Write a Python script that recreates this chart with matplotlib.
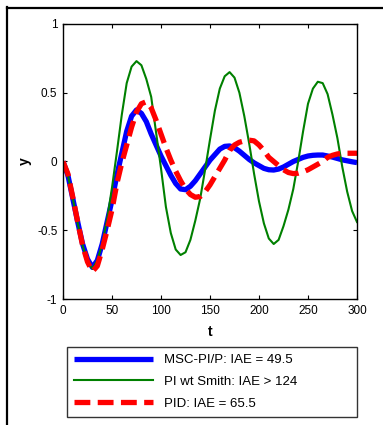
import matplotlib
matplotlib.use("Agg")
import matplotlib.pyplot as plt
from matplotlib.lines import Line2D

plt.rcParams['font.family'] = ['Liberation Sans', 'DejaVu Sans']

t = list(range(0, 301, 5))

msc = [0.0, -0.1, -0.27, -0.44, -0.6, -0.71, -0.77, -0.72, -0.6, -0.44, -0.28, -0.1,
       0.06, 0.22, 0.33, 0.375, 0.35, 0.29, 0.2, 0.12, 0.04, -0.03, -0.1, -0.16,
       -0.2, -0.205, -0.18, -0.14, -0.09, -0.04, 0.01, 0.05, 0.09, 0.11, 0.113,
       0.1, 0.075, 0.045, 0.015, -0.01, -0.03, -0.05, -0.06, -0.062, -0.055, -0.04,
       -0.02, 0.0, 0.015, 0.03, 0.04, 0.045, 0.047, 0.047, 0.04, 0.032, 0.022,
       0.012, 0.005, -0.002, -0.008]

smith = [0.0, -0.1, -0.27, -0.45, -0.61, -0.73, -0.78, -0.72, -0.6, -0.42, -0.19, 0.07,
         0.34, 0.57, 0.69, 0.73, 0.7, 0.6, 0.47, 0.21, -0.05, -0.33, -0.52, -0.64,
         -0.68, -0.66, -0.57, -0.43, -0.27, -0.06, 0.16, 0.37, 0.53, 0.62, 0.65,
         0.61, 0.5, 0.33, 0.13, -0.09, -0.29, -0.45, -0.56, -0.6, -0.57, -0.47,
         -0.35, -0.2, 0.0, 0.22, 0.42, 0.53, 0.58, 0.57, 0.49, 0.34, 0.17, -0.04,
         -0.22, -0.36, -0.44]

pid = [0.0, -0.09, -0.26, -0.44, -0.61, -0.73, -0.8, -0.76, -0.64, -0.5, -0.35, -0.16,
       -0.01, 0.12, 0.25, 0.36, 0.42, 0.435, 0.39, 0.3, 0.2, 0.1, 0.01, -0.07,
       -0.14, -0.2, -0.24, -0.26, -0.255, -0.22, -0.17, -0.11, -0.05, 0.01, 0.08,
       0.12, 0.14, 0.15, 0.155, 0.15, 0.12, 0.08, 0.03, 0.0, -0.03, -0.06, -0.08,
       -0.088, -0.085, -0.075, -0.06, -0.04, -0.02, 0.0, 0.03, 0.045, 0.055, 0.06,
       0.06, 0.06, 0.06]

labels = ["MSC-PI/P: IAE = 49.5", "PI wt Smith: IAE > 124", "PID: IAE = 65.5"]
xticks = [0, 50, 100, 150, 200, 250, 300]
yticks = [-1, -0.5, 0, 0.5, 1]
yticklabels = ["-1", "-0.5", "0", "0.5", "1"]

W, H = 383, 425
fig = plt.figure(figsize=(W / 100, H / 100), dpi=100)
ax = fig.add_axes([63 / W, 1 - 299 / H, (357 - 63) / W, (299 - 24) / H])

l1, = ax.plot(t, msc, color=(0, 0, 1), lw=3.8, solid_capstyle='butt')
l2, = ax.plot(t, smith, color=(0, 0.5, 0), lw=1.5)
l3, = ax.plot(t, pid, color=(1, 0, 0), lw=3.8, dashes=(3.0, 1.4))

ax.set_xlim(0, 300)
ax.set_ylim(-1, 1)
ax.set_xticks(xticks)
ax.set_yticks(yticks)
ax.set_yticklabels(yticklabels)
ax.tick_params(direction='in', top=True, right=True, length=3, width=0.8,
               labelsize=8.5, pad=4)
for s in ax.spines.values():
    s.set_linewidth(1.0)
ax.set_xlabel('t', fontsize=10, fontweight='bold', labelpad=6)
ax.set_ylabel('y', fontsize=10, fontweight='bold', labelpad=4)

leg = fig.legend([l1, l2, l3], labels, loc='lower left',
                 bbox_to_anchor=(67 / W, 1 - 417 / H, (357 - 67) / W, (417 - 345) / H),
                 mode='expand', borderaxespad=0, fontsize=9.5, frameon=True,
                 fancybox=False, handlelength=6.0, handletextpad=0.8,
                 labelspacing=0.72, borderpad=0.55)
leg.get_frame().set_edgecolor('black')
leg.get_frame().set_linewidth(1.0)

# outer frame lines (left and top)
fig.add_artist(Line2D([6.5 / W, 6.5 / W], [0, 1 - 7 / H], transform=fig.transFigure,
                      color='black', lw=1.6))
fig.add_artist(Line2D([6.5 / W, 1], [1 - 7.5 / H, 1 - 7.5 / H], transform=fig.transFigure,
                      color='black', lw=1.6))

fig.savefig('out.png', dpi=100)
